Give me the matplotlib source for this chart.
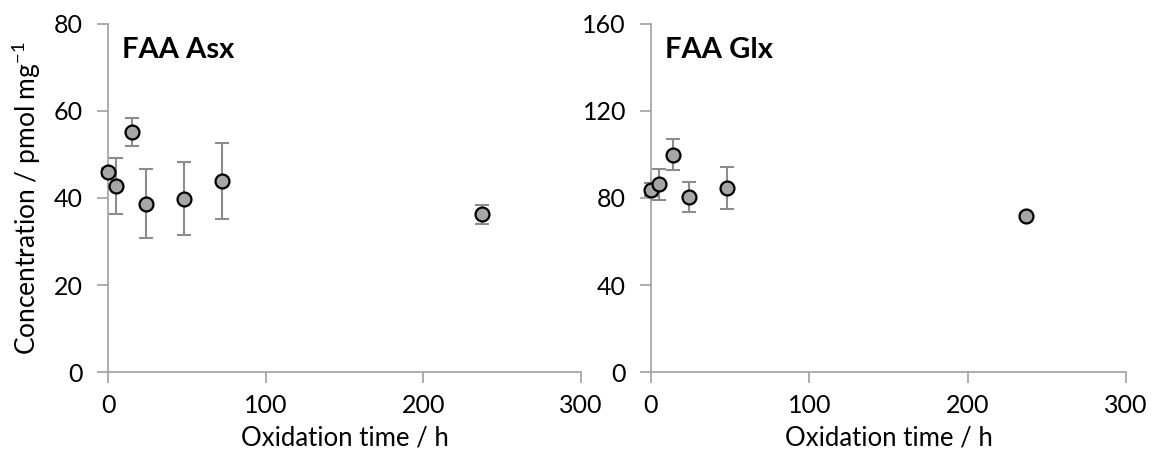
import numpy as np
import matplotlib.pyplot as plt

# oxidation time (h) and concentrations (pmol/mg)
time_asx = [0, 5, 15, 24, 48, 72, 237]
asx = [46.0, 42.8, 55.2, 38.7, 39.8, 43.9, 36.3]
asx_err = [1.0, 6.4, 3.2, 8.0, 8.4, 8.7, 2.2]

time_glx = [0, 5, 14, 24, 48, 237]
glx = [83.7, 86.3, 99.9, 80.5, 84.5, 71.7]
glx_err = [3.0, 7.2, 7.0, 7.0, 9.6, 1.5]

plt.rcParams['font.family'] = ['Lato', 'DejaVu Sans']

fig = plt.figure(figsize=(11.53, 4.61), dpi=100)
ax1 = fig.add_axes([0.0937, 0.193, 0.4103, 0.755])
ax2 = fig.add_axes([0.5646, 0.193, 0.412, 0.755])

panels = [
    (ax1, time_asx, asx, asx_err, "FAA Asx", 80, 20),
    (ax2, time_glx, glx, glx_err, "FAA Glx", 160, 40),
]

for ax, t, y, e, title, ymax, step in panels:
    ax.errorbar(t, y, yerr=e, fmt="none", ecolor="#8c8c8c", elinewidth=1.5,
                capsize=5, capthick=1.5, zorder=2)
    ax.plot(t, y, "o", ms=10, mfc="#a6a6a6", mec="black", mew=1.6, zorder=3)
    ax.set_xlim(0, 300)
    ax.set_ylim(0, ymax)
    ax.set_xticks([0, 100, 200, 300])
    ax.set_yticks(np.arange(0, ymax + 1, step))
    for s in ["top", "right"]:
        ax.spines[s].set_visible(False)
    for s in ["left", "bottom"]:
        ax.spines[s].set_color("#a0a0a0")
        ax.spines[s].set_linewidth(1.2)
    ax.tick_params(direction="out", length=8, width=1.2, color="#a0a0a0",
                   labelsize=18)
    ax.tick_params(axis="y", pad=10)
    ax.tick_params(axis="x", pad=8)
    ax.set_xlabel("Oxidation time / h", fontsize=18.5, labelpad=6)
    ax.text(0.03, 0.925, title, transform=ax.transAxes, fontsize=21,
            fontweight="bold", va="center", ha="left")
    for art in ax.get_children():
        art.set_clip_on(False)

ax1.set_ylabel("Concentration / pmol mg$^{\\mathregular{-1}}$", fontsize=19,
               labelpad=8)

fig.savefig("out.png", dpi=100)
